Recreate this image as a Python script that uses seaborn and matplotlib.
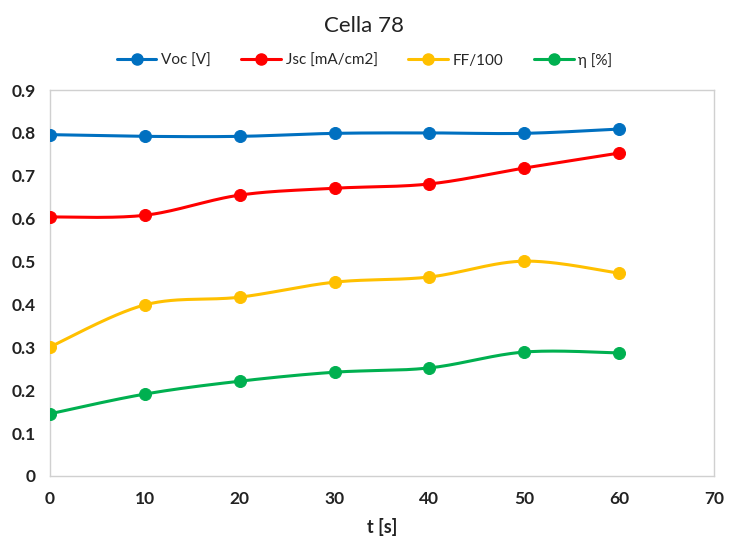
import numpy as np
import pandas as pd
import seaborn as sns
import matplotlib.pyplot as plt
from matplotlib.lines import Line2D

# dati
t = [0, 10, 20, 30, 40, 50, 60]
voc = [0.796, 0.792, 0.792, 0.799, 0.800, 0.799, 0.809]
jsc = [0.604, 0.608, 0.655, 0.671, 0.681, 0.718, 0.753]
ff = [0.301, 0.399, 0.417, 0.452, 0.464, 0.501, 0.473]
eta = [0.145, 0.191, 0.221, 0.242, 0.252, 0.289, 0.287]

serie = ['Voc [V]', 'Jsc [mA/cm2]', 'FF/100', 'η [%]']
colori = ['#0070C0', '#FF0000', '#FFC000', '#00B050']

df = pd.DataFrame({'t': t, serie[0]: voc, serie[1]: jsc, serie[2]: ff, serie[3]: eta})


def smooth(x, y, n=30):
    # curva catmull-rom tipo "linee smussate" di Excel
    x = np.asarray(x, float)
    y = np.asarray(y, float)
    px = np.concatenate([[x[0]], x, [x[-1]]])
    py = np.concatenate([[y[0]], y, [y[-1]]])
    xs, ys = [], []
    s = np.linspace(0, 1, n)
    for i in range(1, len(px) - 2):
        p0, p1, p2, p3 = [np.array([px[j], py[j]]) for j in range(i - 1, i + 3)]
        c1 = p1 + (p2 - p0) / 6
        c2 = p2 - (p3 - p1) / 6
        pts = (((1 - s) ** 3)[:, None] * p1 + (3 * (1 - s) ** 2 * s)[:, None] * c1
               + (3 * (1 - s) * s ** 2)[:, None] * c2 + (s ** 3)[:, None] * p2)
        xs.extend(pts[:, 0])
        ys.extend(pts[:, 1])
    return np.array(xs), np.array(ys)


sns.set_style('white')
plt.rcParams['font.family'] = ['Lato', 'DejaVu Sans']

fig = plt.figure(figsize=(7.29, 5.36), dpi=100)
ax = fig.add_axes([0.0686, 0.112, 0.9106, 0.720])

for nome, col in zip(serie, colori):
    xs, ys = smooth(df['t'], df[nome])
    sns.lineplot(x=xs, y=ys, color=col, linewidth=2.2, ax=ax, sort=False)
    sns.scatterplot(x=df['t'], y=df[nome], color=col, s=75, edgecolor=col, ax=ax, zorder=3)

ax.set_xlim(0, 70)
ax.set_ylim(0, 0.9)
ax.set_xticks(range(0, 71, 10))
ax.set_yticks(np.arange(0, 0.91, 0.1))
ax.set_yticklabels(['0'] + [f'{v:.1f}' for v in np.arange(0.1, 0.91, 0.1)])
ax.tick_params(axis='both', labelsize=12.5, length=0)
ax.tick_params(axis='x', pad=11)
ax.tick_params(axis='y', pad=10)
for lab in ax.get_xticklabels() + ax.get_yticklabels():
    lab.set_fontweight('bold')
    lab.set_color('#222222')
for sp in ax.spines.values():
    sp.set_color('#d0d0d0')
    sp.set_linewidth(1)

ax.set_xlabel('t [s]', fontsize=13, fontweight='bold', color='#222222', labelpad=8)
ax.set_ylabel('')

handles = [Line2D([0], [0], color=c, linewidth=2.2, marker='o', markersize=8) for c in colori]
fig.legend(handles, serie, loc='center', bbox_to_anchor=(0.5, 0.888), ncol=4,
           frameon=False, fontsize=11, handlelength=2.6, columnspacing=2.0, handletextpad=0.3)
fig.suptitle('Cella 78', fontsize=16, y=0.97, color='#222222')

fig.savefig('out.png', dpi=100)
